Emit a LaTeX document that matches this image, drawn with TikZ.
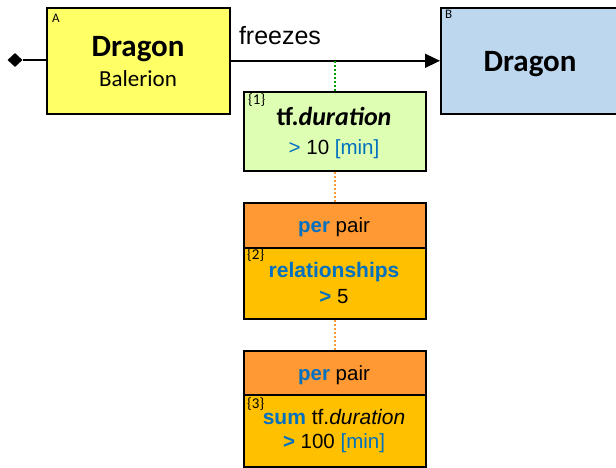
\documentclass[tikz,border=0pt]{standalone}
\usepackage{fontspec}
\setmainfont{Liberation Sans}
\newfontfamily\carl{Carlito}
\usetikzlibrary{shapes.geometric,arrows.meta}
\definecolor{ayel}{HTML}{FFFF66}
\definecolor{bblue}{HTML}{BDD7EE}
\definecolor{lgreen}{HTML}{DEFFB3}
\definecolor{hdor}{HTML}{FF9933}
\definecolor{bdor}{HTML}{FFC000}
\definecolor{tblue}{HTML}{0070C0}
\definecolor{dgreen}{HTML}{00A000}
\definecolor{dorange}{HTML}{FF9933}
\begin{document}
\begin{tikzpicture}[x=1pt,y=-1pt,
  box/.style={draw=black,line width=1.6pt,rectangle,inner sep=0pt,anchor=north west},
  txt/.style={inner sep=0pt,anchor=base},
  tag/.style={inner sep=0pt,anchor=base west,font=\carl\fontsize{13}{14}\selectfont},
  num/.style={inner sep=0pt,anchor=base west,font=\carl\fontsize{15}{16}\selectfont},
  big/.style={font=\carl\bfseries\fontsize{31}{32}\selectfont},
  mid/.style={font=\fontsize{20.5}{22}\selectfont},
  dotline/.style={line width=1.8pt,dash pattern=on 2pt off 2pt}
]
\clip (0,0) rectangle (616,468);
% boxes
\node[box,fill=ayel,minimum width=183pt,minimum height=106pt] (A) at (46,7) {};
\node[box,fill=bblue,minimum width=182pt,minimum height=106pt] (B) at (440,7) {};
\node[box,fill=lgreen,minimum width=182pt,minimum height=79pt] (C1) at (243,91) {};
\node[box,fill=hdor,minimum width=182pt,minimum height=45pt] (H2) at (243,202) {};
\node[box,fill=bdor,minimum width=182pt,minimum height=71pt] (C2) at (243,247) {};
\node[box,fill=hdor,minimum width=182pt,minimum height=44pt] (H3) at (243,350) {};
\node[box,fill=bdor,minimum width=182pt,minimum height=72pt] (C3) at (243,394) {};
% diamond
\node[diamond,fill=black,inner sep=0pt,minimum width=15pt,minimum height=14pt] (D) at (15,60) {};
% connectors
\draw[line width=1.6pt] (D.east) -- (D.east -| A.west);
\draw[line width=1.6pt,-{Triangle[length=15pt,width=14pt]}] (A.east) -- (B.west);
\coordinate (g) at (C1.north |- A.east);
\draw[dgreen,dotline] (g) -- (C1.north);
\draw[dorange,dotline] (C1.south) -- (H2.north);
\draw[dorange,dotline] (C2.south) -- (H3.north);
% texts
\node[tag] (tA) at (52,23) {A};
\node[tag] (tB) at (445,19) {B};
\node[txt,big] (a1) at (138,57) {Dragon};
\node[txt,font=\carl\fontsize{23}{25}\selectfont] (a2) at (138,87) {Balerion};
\node[txt,big] (b1) at (530,72) {Dragon};
\node[txt,font=\fontsize{25}{27}\selectfont] (fr) at (280,45) {freezes};
\node[num] (n1) at (248,105) {\{1\}};
\node[txt,font=\carl\bfseries\fontsize{26}{28}\selectfont] (c1a) at (334,126) {tf.\textit{duration}};
\node[txt,mid] (c1b) at (334,155) {\textcolor{tblue}{>} 10 \textcolor{tblue}{[min]}};
\node[txt,mid] (h2) at (334,233) {\textcolor{tblue}{\bfseries per} pair};
\node[num] (n2) at (247,259) {\{2\}};
\node[txt,font=\fontsize{21}{23}\selectfont] (c2a) at (334,277) {\textcolor{tblue}{\bfseries relationships}};
\node[txt,mid] (c2b) at (334,303) {\textcolor{tblue}{\bfseries >} 5};
\node[txt,mid] (h3) at (334,380) {\textcolor{tblue}{\bfseries per} pair};
\node[num] (n3) at (247,408) {\{3\}};
\node[txt,font=\fontsize{21}{23}\selectfont] (c3a) at (334,424) {\textcolor{tblue}{\bfseries sum} tf.\textit{duration}};
\node[txt,mid] (c3b) at (334,448) {\textcolor{tblue}{\bfseries >} 100 \textcolor{tblue}{[min]}};
\end{tikzpicture}
\end{document}
